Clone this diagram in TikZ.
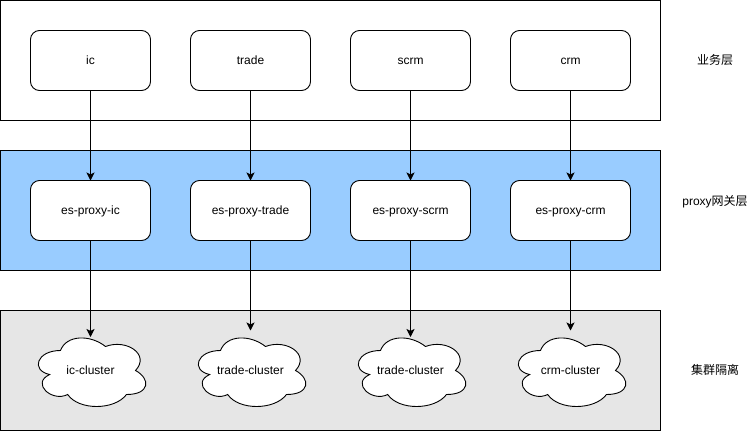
\documentclass[tikz,border=0pt]{standalone}
\usepackage{fontspec}
\setmainfont{Liberation Sans}
\newfontfamily\cjk{Noto Sans CJK SC}
\usetikzlibrary{positioning}
\usetikzlibrary{arrows.meta}
\usetikzlibrary{backgrounds}
\definecolor{proxyblue}{HTML}{99CCFF}
\definecolor{clustergray}{HTML}{E6E6E6}
\tikzset{%
  arrow/.style = {-{Stealth[length=8pt,width=8pt,inset=2pt]},line width=0.9pt},
  band/.style = {rectangle,draw,line width=0.9pt,minimum width=660pt,
        minimum height=120pt,inner sep=0pt,outer sep=0pt},
  svc/.style = {rectangle,draw,fill=white,rounded corners=9pt,line width=0.9pt,
        minimum width=120pt,minimum height=60pt,inner sep=0pt,outer sep=0pt,
        text height=8pt,text depth=0pt},
  cloudbox/.style = {rectangle,minimum width=120pt,minimum height=80pt,
        inner sep=0pt,outer sep=0pt,text height=8pt,text depth=0pt},
  layerlabel/.style = {inner sep=0pt,anchor=center,text height=8pt,text depth=0pt}
}
% outline of the cloud, inside the box of a cloudbox node
\newcommand{\cloudline}[1]{%
  \begin{scope}[on background layer,shift={(#1.south west)},x=120pt,y=80pt]
    \draw[fill=white,line width=0.9pt] (0.25,0.75)
      .. controls (0.05,0.75) and (0,0.5) .. (0.16,0.45)
      .. controls (0,0.34) and (0.18,0.1) .. (0.31,0.2)
      .. controls (0.4,0) and (0.7,0) .. (0.8,0.2)
      .. controls (1,0.2) and (1,0.4) .. (0.875,0.5)
      .. controls (1,0.7) and (0.8,0.9) .. (0.625,0.8)
      .. controls (0.5,0.95) and (0.3,0.95) .. (0.25,0.75) -- cycle;
  \end{scope}}

\begin{document}
\begin{tikzpicture}[x=1pt,y=1pt,font=\fontsize{12}{14}\selectfont]
    \useasboundingbox (0,0) rectangle (756,-431);

    \node[svc] (ic) at (90.5,-60.5) {ic};
    \node[svc] (trade) [right=40pt of ic] {trade};
    \node[svc] (scrm) [right=40pt of trade] {scrm};
    \node[svc] (crm) [right=40pt of scrm] {crm};

    \node[svc] (pic) [below=90pt of ic] {es-proxy-ic};
    \node[svc] (ptrade) [right=40pt of pic] {es-proxy-trade};
    \node[svc] (pscrm) [right=40pt of ptrade] {es-proxy-scrm};
    \node[svc] (pcrm) [right=40pt of pscrm] {es-proxy-crm};

    \node[cloudbox] (cic) [below=90pt of pic] {ic-cluster};
    \node[cloudbox] (ctrade) [right=40pt of cic] {trade-cluster};
    \node[cloudbox] (cscrm) [right=40pt of ctrade] {trade-cluster};
    \node[cloudbox] (ccrm) [right=40pt of cscrm] {crm-cluster};

    \begin{scope}[on background layer]
        \node[band] (bizband) at (330.5,-60.5) {};
        \node[band,fill=proxyblue] (proxyband) at (330.5,-210.5) {};
        \node[band,fill=clustergray] (clusterband) at (330.5,-370.5) {};
    \end{scope}

    \cloudline{cic}
    \cloudline{ctrade}
    \cloudline{cscrm}
    \cloudline{ccrm}

    \coordinate (cictop) at (90.5,-337);
    \coordinate (cscrmtop) at (410.5,-337);

    \node[layerlabel] (bizlabel) at (715,-60.5) {\cjk 业务层};
    \node[layerlabel] (proxylabel) at (715,-201) {proxy\cjk 网关层};
    \node[layerlabel] (clusterlabel) at (715,-370.5) {\cjk 集群隔离};

    \foreach \a/\b in {ic/pic,trade/ptrade,scrm/pscrm,crm/pcrm,ptrade/ctrade,pcrm/ccrm}
        \draw[arrow] (\a) -- (\b);
    \draw[arrow] (pic) -- (cictop);
    \draw[arrow] (pscrm) -- (cscrmtop);
\end{tikzpicture}
\end{document}
